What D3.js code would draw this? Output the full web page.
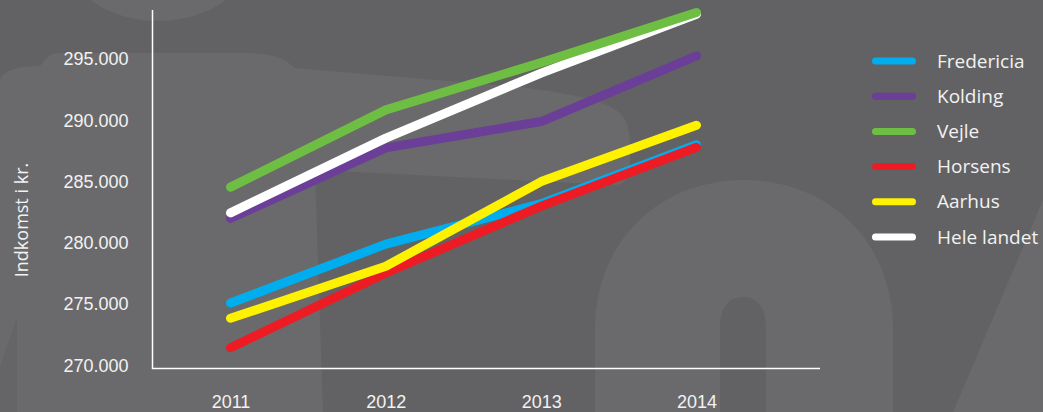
<!DOCTYPE html>
<html>
<head>
<meta charset="utf-8">
<script src="https://cdn.jsdelivr.net/npm/d3@7"></script>
<style>
  body { margin: 0; background: #626264; }
  svg { display: block; font-family: "Open Sans", sans-serif; }
  .tick text { fill: #f2f2f2; font-size: 18px; }
</style>
</head>
<body>
<svg id="chart" width="1043" height="412"></svg>
<script>
const width = 1043
const height = 412

// data (kr.)
const years = [2011, 2012, 2013, 2014]
const fredericia = [275100, 279900, 283200, 288000]
const kolding = [282000, 287750, 289900, 295250]
const vejle = [284550, 290850, 294700, 298800]
const horsens = [271450, 277550, 283000, 287800]
const aarhus = [273850, 278100, 285000, 289600]
const heleLandet = [282450, 288550, 293850, 298650]

const seriesNames = ["Fredericia", "Kolding", "Vejle", "Horsens", "Aarhus", "Hele landet"]
const seriesColors = ["#00aeef", "#6b3e98", "#6fbe44", "#ed1c24", "#fff200", "#ffffff"]
const seriesValues = [fredericia, kolding, vejle, horsens, aarhus, heleLandet]
// drawing order (which line sits on top)
const drawOrder = ["Fredericia", "Horsens", "Aarhus", "Kolding", "Hele landet", "Vejle"]

const yTicks = [270000, 275000, 280000, 285000, 290000, 295000]
const yTitle = "Indkomst i kr."

const svg = d3.select("#chart")

//background letters, just decoration
const bgLight = "#6a6a6c"
const bg = svg.append("g")
bg.append("rect").attr("width", width).attr("height", height).attr("fill", "#626264")
bg.append("ellipse").attr("cx", 158).attr("cy", -45).attr("rx", 92).attr("ry", 66).attr("fill", bgLight)
bg.append("path")
  .attr("d", "M0,82 C0,70 20,66 40,66 C45,60 48,53 60,53 L245,53 C270,53 285,58 295,68 L520,87 C590,96 615,104 624,118 C631,130 630,145 630,160 C630,176 626,185 615,185 L315,170 L323,412 L0,412 Z")
  .attr("fill", bgLight)
bg.append("path").attr("d", "M17,317 L17,412 L0,412 L0,367 Z").attr("fill", "#656567")
bg.append("path")
  .attr("d", "M595,412 L595,330 C595,240 660,180 744,180 C828,180 893,240 893,330 L893,412 Z M720,412 L720,330 C720,305 730,297 743,297 C756,297 766,305 766,330 L766,412 Z")
  .attr("fill-rule", "evenodd")
  .attr("fill", bgLight)
bg.append("path").attr("d", "M1043,200 L953,412 L1043,412 Z").attr("fill", bgLight)

//scales
const x = d3.scalePoint().domain(years).range([230.5, 696.5])
const y = d3.scaleLinear().domain([270000, 300000]).range([365.5, -2.3])

const locale = d3.formatLocale({decimal: ",", thousands: ".", grouping: [3], currency: ["", " kr."]})
const fmt = locale.format(",.0f")

//axes
const yAxis = svg.append("g")
  .attr("transform", "translate(152.5,0)")
  .call(d3.axisLeft(y).tickValues(yTicks).tickFormat(fmt).tickSize(0).tickPadding(24))
yAxis.select(".domain").remove()

const xAxis = svg.append("g")
  .attr("transform", "translate(0,368)")
  .call(d3.axisBottom(x).tickSize(0).tickPadding(27).tickFormat(d3.format("d")))
xAxis.select(".domain").remove()

svg.append("path")
  .attr("d", "M152.5,10 L152.5,368.5 L820,368.5")
  .attr("fill", "none")
  .attr("stroke", "#ffffff")
  .attr("stroke-width", 1.5)

svg.append("text")
  .attr("transform", "translate(28,220) rotate(-90)")
  .attr("text-anchor", "middle")
  .attr("fill", "#f2f2f2")
  .attr("font-size", 18)
  .text(yTitle)

//lines
const line = d3.line()
  .x((d, i) => x(years[i]))
  .y(d => y(d))

for (const name of drawOrder) {
  const idx = seriesNames.indexOf(name)
  svg.append("path")
    .datum(seriesValues[idx])
    .attr("d", line)
    .attr("fill", "none")
    .attr("stroke", seriesColors[idx])
    .attr("stroke-width", 9)
    .attr("stroke-linecap", "round")
    .attr("stroke-linejoin", "round")
}

//legend
const legend = svg.append("g").attr("transform", "translate(872,61)")
seriesNames.forEach((name, i) => {
  const row = legend.append("g").attr("transform", `translate(0,${i * 35.2})`)
  row.append("line")
    .attr("x1", 3.5).attr("x2", 40.5)
    .attr("stroke", seriesColors[i])
    .attr("stroke-width", 7)
    .attr("stroke-linecap", "round")
  row.append("text")
    .attr("x", 65)
    .attr("dy", "0.35em")
    .attr("fill", "#f2f2f2")
    .attr("font-size", 19)
    .text(name)
})
</script>
</body>
</html>
